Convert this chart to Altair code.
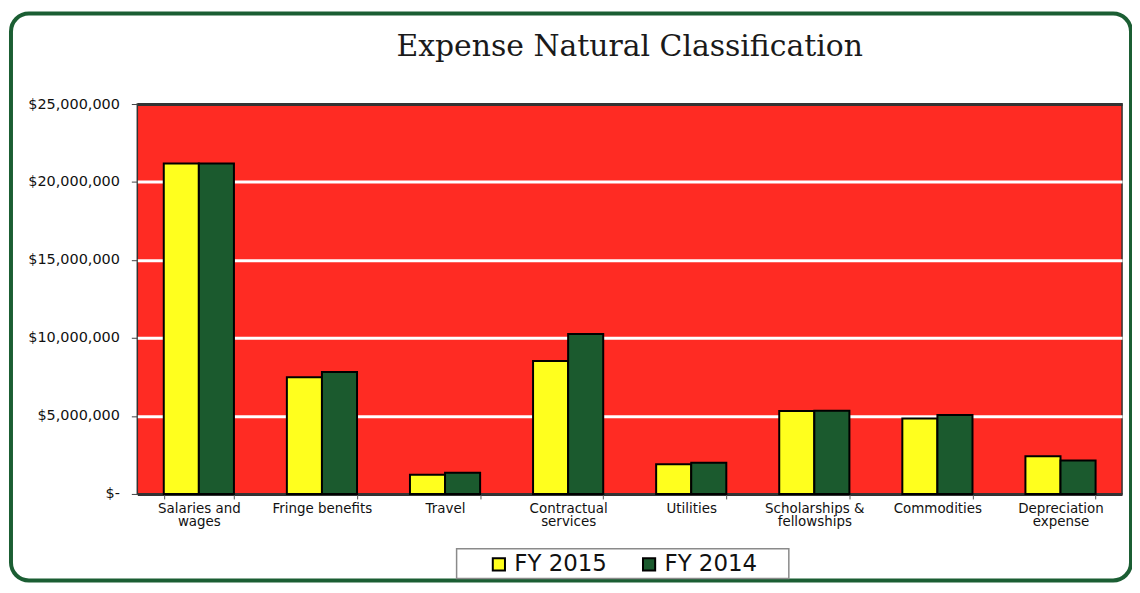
import altair as alt
import pandas as pd

categories = ["Salaries and wages", "Fringe benefits", "Travel", "Contractual services",
              "Utilities", "Scholarships & fellowships", "Commodities", "Depreciation expense"]
wrapped_labels = ["Salaries and|wages", "Fringe benefits", "Travel", "Contractual|services",
                  "Utilities", "Scholarships &|fellowships", "Commodities", "Depreciation|expense"]
fy2015 = [21_180_000, 7_480_000, 1_230_000, 8_520_000, 1_900_000, 5_320_000, 4_840_000, 2_420_000]
fy2014 = [21_180_000, 7_820_000, 1_360_000, 10_260_000, 2_000_000, 5_340_000, 5_060_000, 2_140_000]
series = ["FY 2015", "FY 2014"]
colors = ["#FFFF1E", "#1B5A2E"]
y_ticks = [0, 5_000_000, 10_000_000, 15_000_000, 20_000_000, 25_000_000]

rows = []
for c, a, b in zip(categories, fy2015, fy2014):
    rows.append({"category": c, "year": series[0], "value": a})
    rows.append({"category": c, "year": series[1], "value": b})
df = pd.DataFrame(rows)

parts = []
for c, w in zip(categories, wrapped_labels):
    arr = "[" + ",".join("'" + s + "'" for s in w.split("|")) + "]"
    parts.append(f"datum.value == '{c}' ? {arr}")
x_label_expr = " : ".join(parts) + " : datum.label"

nb = "\u00a0"
y_label_expr = f"datum.value == 0 ? '$-{nb*3}' : '$' + format(datum.value, ',')"

font = "DejaVu Sans"

bars = alt.Chart(df).mark_bar(stroke="black", strokeWidth=2).encode(
    x=alt.X("category:N", sort=categories,
            scale=alt.Scale(paddingInner=0.43, paddingOuter=0.215),
            axis=alt.Axis(title=None, labelAngle=0, labelExpr=x_label_expr, domain=False,
                          tickBand="extent", tickSize=5, tickColor="#555",
                          labelFont=font, labelFontSize=13.5, labelColor="#111",
                          labelPadding=3, labelLineHeight=13)),
    xOffset=alt.XOffset("year:N", sort=series),
    y=alt.Y("value:Q", scale=alt.Scale(domain=[0, 25_000_000], nice=False),
            axis=alt.Axis(title=None, values=y_ticks, labelExpr=y_label_expr, domain=False,
                          grid=True, gridWidth=3,
                          gridColor=alt.condition("datum.value == 0 || datum.value == 25000000",
                                                  alt.value("#333333"), alt.value("#FFFFFF")),
                          tickSize=6, tickColor="#444", labelFont=font, labelFontSize=14.5,
                          labelColor="#111", labelPadding=12)),
    color=alt.Color("year:N", sort=series,
                    scale=alt.Scale(domain=series, range=colors),
                    legend=alt.Legend(title=None, orient="none", legendX=352, legendY=451,
                                      direction="horizontal", symbolType="square",
                                      symbolSize=150, symbolStrokeColor="black",
                                      symbolStrokeWidth=2, labelFont=font, labelFontSize=23,
                                      labelColor="#111", columnPadding=30, labelOffset=4,
                                      padding=0)),
)

one = alt.Data(values=[{"k": 1}])

border = alt.Chart(one).mark_rect(fill="white", fillOpacity=0, stroke="#1B5E33",
                                   strokeWidth=4, cornerRadius=18).encode(
    x=alt.value(-127), x2=alt.value(999), y=alt.value(-91), y2=alt.value(479))

legend_box = alt.Chart(one).mark_rect(fill="white", stroke="#8a8a8a", strokeWidth=1.5).encode(
    x=alt.value(321), x2=alt.value(655), y=alt.value(447), y2=alt.value(477))

chart = alt.layer(border, legend_box, bars).properties(
    width=990, height=392,
    title=alt.TitleParams("Expense Natural Classification", font="DejaVu Serif", fontSize=30,
                          fontWeight="normal", color="#1a1a1a", anchor="middle",
                          baseline="alphabetic", offset=0, dy=75),
    padding={"left": 130, "top": 95, "right": 10, "bottom": 89},
    autosize=alt.AutoSizeParams(type="none"),
).configure_view(fill="#FF2B23", stroke="#333333", strokeWidth=1.5)

chart.save("out.html", embed_options={"renderer": "svg", "actions": False})
